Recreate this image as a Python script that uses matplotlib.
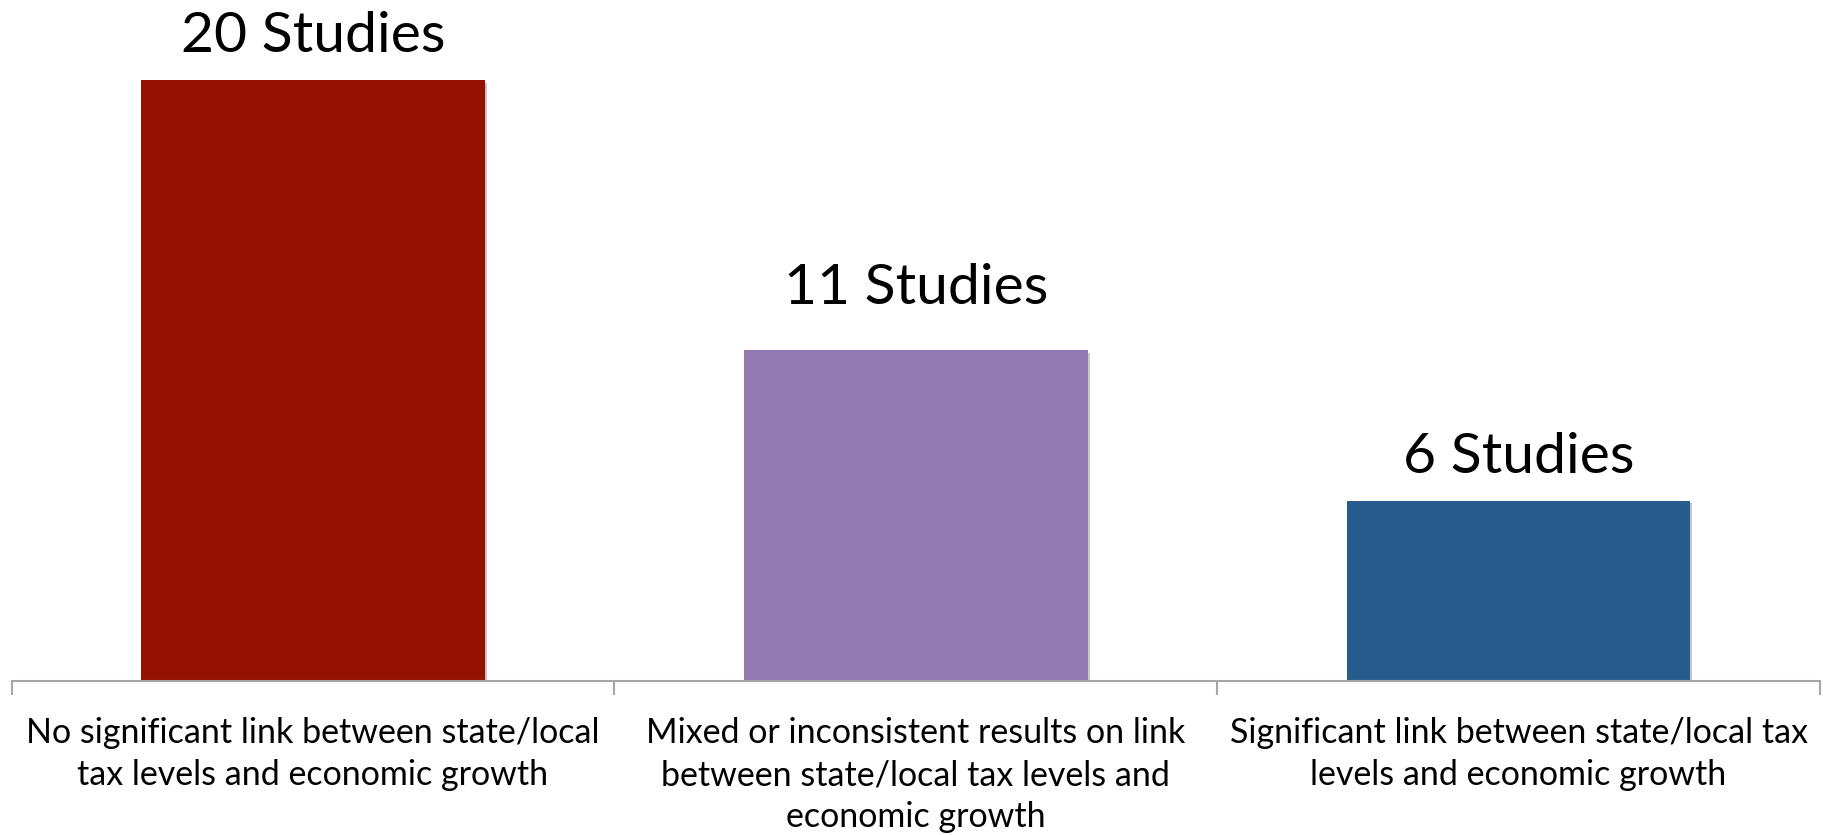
import matplotlib
matplotlib.use("Agg")
import matplotlib.pyplot as plt
from matplotlib.ticker import FixedLocator, NullLocator
import matplotlib.patheffects as pe

categories = [
    "No significant link between state/local\ntax levels and economic growth",
    "Mixed or inconsistent results on link\nbetween state/local tax levels and\neconomic growth",
    "Significant link between state/local tax\nlevels and economic growth",
]
studies = [20, 11, 6]
colors = ["#941100", "#927BB1", "#285C8E"]
# gap (points) between each bar top and its label baseline
label_gaps = [20.5, 33.5, 20.0]

plt.rcParams["font.family"] = ["Lato", "DejaVu Sans"]

W, H = 1824, 835
fig = plt.figure(figsize=(W / 100, H / 100), dpi=100)
ax_left, ax_right = 11.6 / W, 1820 / W
ax_bottom = (H - 680.5) / H
ax = fig.add_axes([ax_left, ax_bottom, ax_right - ax_left, 1 - ax_bottom])

x = list(range(len(studies)))
bars = ax.bar(x, studies, width=0.57, color=colors, zorder=2,
              path_effects=[pe.SimplePatchShadow(offset=(1.5, -1.5), alpha=0.25),
                            pe.Normal()])

ax.set_xlim(-0.5, len(studies) - 0.5)
ax.set_ylim(0, 680.5 / 30.0)

for xi, v, gap in zip(x, studies, label_gaps):
    ax.annotate(f"{v} Studies", (xi, v), xytext=(0, gap), textcoords="offset points",
                ha="center", va="baseline", fontsize=41, color="black")

for side in ("left", "right", "top"):
    ax.spines[side].set_visible(False)
ax.spines["bottom"].set_color("#A6A6A6")
ax.spines["bottom"].set_linewidth(1.5)
ax.yaxis.set_major_locator(NullLocator())

ax.xaxis.set_major_locator(FixedLocator([-0.5, 0.5, 1.5, 2.5]))
ax.xaxis.set_minor_locator(FixedLocator(x))
ax.set_xticklabels([])
ax.set_xticklabels(categories, minor=True, fontsize=24.5, linespacing=1.4)
ax.tick_params(axis="x", which="major", length=10, width=1.5, color="#A6A6A6")
ax.tick_params(axis="x", which="minor", length=0, pad=26)

fig.savefig("out.png", dpi=100, facecolor="white")
